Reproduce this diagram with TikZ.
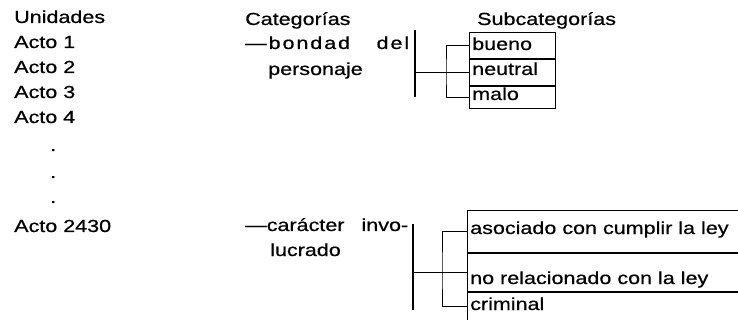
\documentclass[tikz,border=0pt]{standalone}
\usepackage{fontspec}
\setmainfont{Liberation Sans}[FakeStretch=1.23,FakeBold=0.6]

\begin{document}
\begin{tikzpicture}[x=1pt,y=-1pt,
  lbl/.style={anchor=base west,inner sep=0pt,font=\fontsize{17.5}{20}\selectfont},
  row/.style={draw,line width=0.9pt,anchor=north west,inner sep=0pt},
  bar/.style={line width=1.6pt},
  link/.style={line width=0.9pt}]
\useasboundingbox (0,0) rectangle (738,320);
% column of units
\node[lbl] (unid) at (14,23) {Unidades};
\foreach \n/\y in {1/48,2/73,3/98,4/123} {
  \node[lbl] (acto\n) at (14,\y) {Acto \n};
}
\foreach \i/\y in {1/151,2/178,3/203} {
  \node[lbl] (dot\i) at (50,\y) {.};
}
\node[lbl] (acto2430) at (14,232) {Acto 2430};
% headings
\node[lbl] (cat) at (245,25) {Categorías};
\node[lbl] (subcat) at (477,25) {Subcategorías};
% first category
\node[lbl] (bondad) at (245,49) {\makebox[164pt][s]{\addfontfeature{LetterSpace=11}—bondad\hfill del}};
\node[lbl] (personaje) at (268,75) {personaje};
\node[row,minimum width=86pt,minimum height=26pt] (bueno) at (469,32) {};
\node[row,minimum width=86pt,minimum height=26pt] (neutral) at (bueno.south west) {};
\node[row,minimum width=86pt,minimum height=22pt] (malo) at (neutral.south west) {};
\node[lbl] at (472,50) {bueno};
\node[lbl] at (472,75) {neutral};
\node[lbl] at (472,100) {malo};
\coordinate (bar1top) at (415,30);
\coordinate (bar1bot) at (415,97);
\coordinate (fork1) at (446,0);
\draw[bar] (bar1top) -- (bar1bot);
\draw[link] (bar1top |- neutral.west) -- (neutral.west);
\draw[link] (bueno.west) -| (fork1 |- neutral.west) |- (malo.west);
% second category
\node[lbl] (caracter) at (245,231) {\makebox[163pt][s]{—carácter\hfill invo-}};
\node[lbl] (lucrado) at (270,256) {lucrado};
\node[row,minimum width=276pt,minimum height=42pt] (asociado) at (467,210) {};
\node[row,minimum width=276pt,minimum height=38pt] (norel) at (asociado.south west) {};
\node[row,minimum width=276pt,minimum height=28pt] (criminal) at (norel.south west) {};
\node[lbl] at (470,234) {asociado con cumplir la ley};
\node[lbl] at (470,284) {no relacionado con la ley};
\node[lbl] at (470,310) {criminal};
\coordinate (bar2top) at (413,224);
\coordinate (bar2bot) at (413,310);
\coordinate (fork2) at (442,0);
\draw[bar] (bar2top) -- (bar2bot);
\draw[link] (bar2top |- norel.west) -- (norel.west);
\draw[link] (asociado.west) -| (fork2 |- norel.west) |- (criminal.west);
\end{tikzpicture}
\end{document}
